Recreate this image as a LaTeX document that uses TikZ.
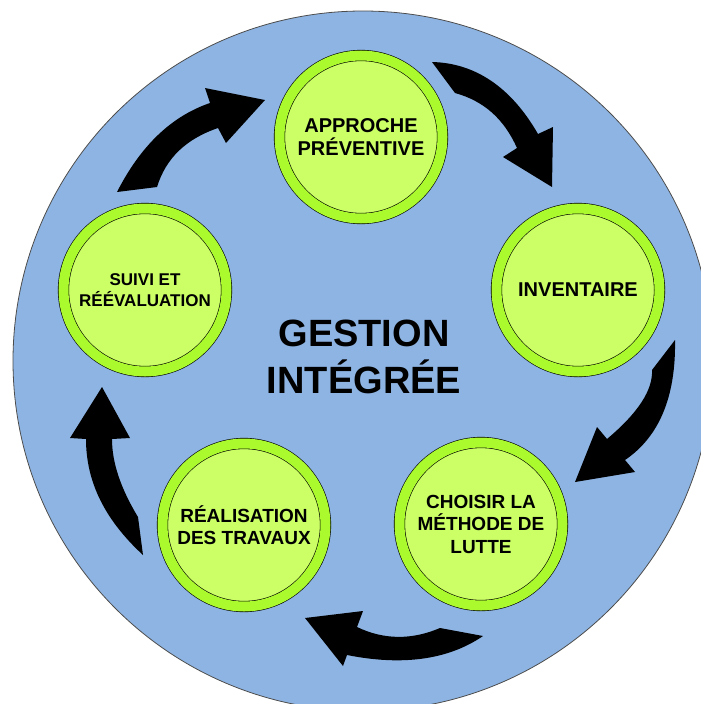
\documentclass[tikz,border=0pt]{standalone}
\usepackage{fontspec}
\setmainfont{Liberation Sans}

\definecolor{discblue}{RGB}{142,180,227}
\definecolor{ringgreen}{RGB}{170,250,45}
\definecolor{stagegreen}{RGB}{204,255,102}

\tikzset{
    disc/.style={fill=discblue, draw=black!70, line width=0.8pt},
    stage/.style={circle, draw=black, line width=0.6pt, double=ringgreen,
        double distance=10pt, fill=stagegreen, minimum size=163pt,
        inner sep=0pt, align=center},
    cyclearrow/.style={fill=black}
}

\begin{document}
\begin{tikzpicture}[x=1pt,y=-1pt]
                \clip (0,0) rectangle (701,704);
                \draw[disc] (363,361) circle[radius=350];

                \node[stage,font=\bfseries\fontsize{20}{23}\selectfont] (prev) at (361,137) {APPROCHE\\PRÉVENTIVE};
                \node[stage,font=\bfseries\fontsize{20}{23}\selectfont] (inv) at (578,290) {INVENTAIRE};
                \node[stage,font=\bfseries\fontsize{19}{22.5}\selectfont] (lutte) at (481,524) {CHOISIR LA\\MÉTHODE DE\\LUTTE};
                \node[stage,font=\bfseries\fontsize{19}{22}\selectfont] (trav) at (244,525) {RÉALISATION\\DES TRAVAUX};
                \node[stage,font=\bfseries\fontsize{17}{21}\selectfont] (suivi) at (145,290) {SUIVI ET\\RÉÉVALUATION};

                \node[align=center,font=\bfseries\fontsize{38}{47}\selectfont] (gest) at (364,357) {GESTION\\INTÉGRÉE};

                \fill[cyclearrow] (157,187) -- (117,192) .. controls (141,145) and (172,116) .. (210,103)
                    -- (205,88) -- (265,100) -- (226,143) -- (218,128)
                    .. controls (186,139) and (166,158) .. (157,187) -- cycle;
                \fill[cyclearrow] (455,93) -- (432,62) .. controls (475,63) and (511,87) .. (538,134)
                    -- (553,127) -- (552,187) -- (503,157) -- (517,148)
                    .. controls (504,119) and (484,101) .. (455,93) -- cycle;
                \fill[cyclearrow] (652,370) -- (675,340) .. controls (676,397) and (659,437) .. (625,460)
                    -- (635,472) -- (575,482) -- (597,427) -- (607,439)
                    .. controls (638,413) and (653,390) .. (652,370) -- cycle;
                \fill[cyclearrow] (440,628) -- (483,636) .. controls (448,660) and (402,666) .. (347,655)
                    -- (343,666) -- (305,618) -- (363,611) -- (357,627)
                    .. controls (384,640) and (412,640) .. (440,628) -- cycle;
                \fill[cyclearrow] (138,517) -- (143,555) .. controls (105,520) and (86,482) .. (86,439)
                    -- (70,438) -- (102,387) -- (130,438) -- (112,439)
                    .. controls (112,463) and (121,489) .. (138,517) -- cycle;
\end{tikzpicture}
\end{document}
